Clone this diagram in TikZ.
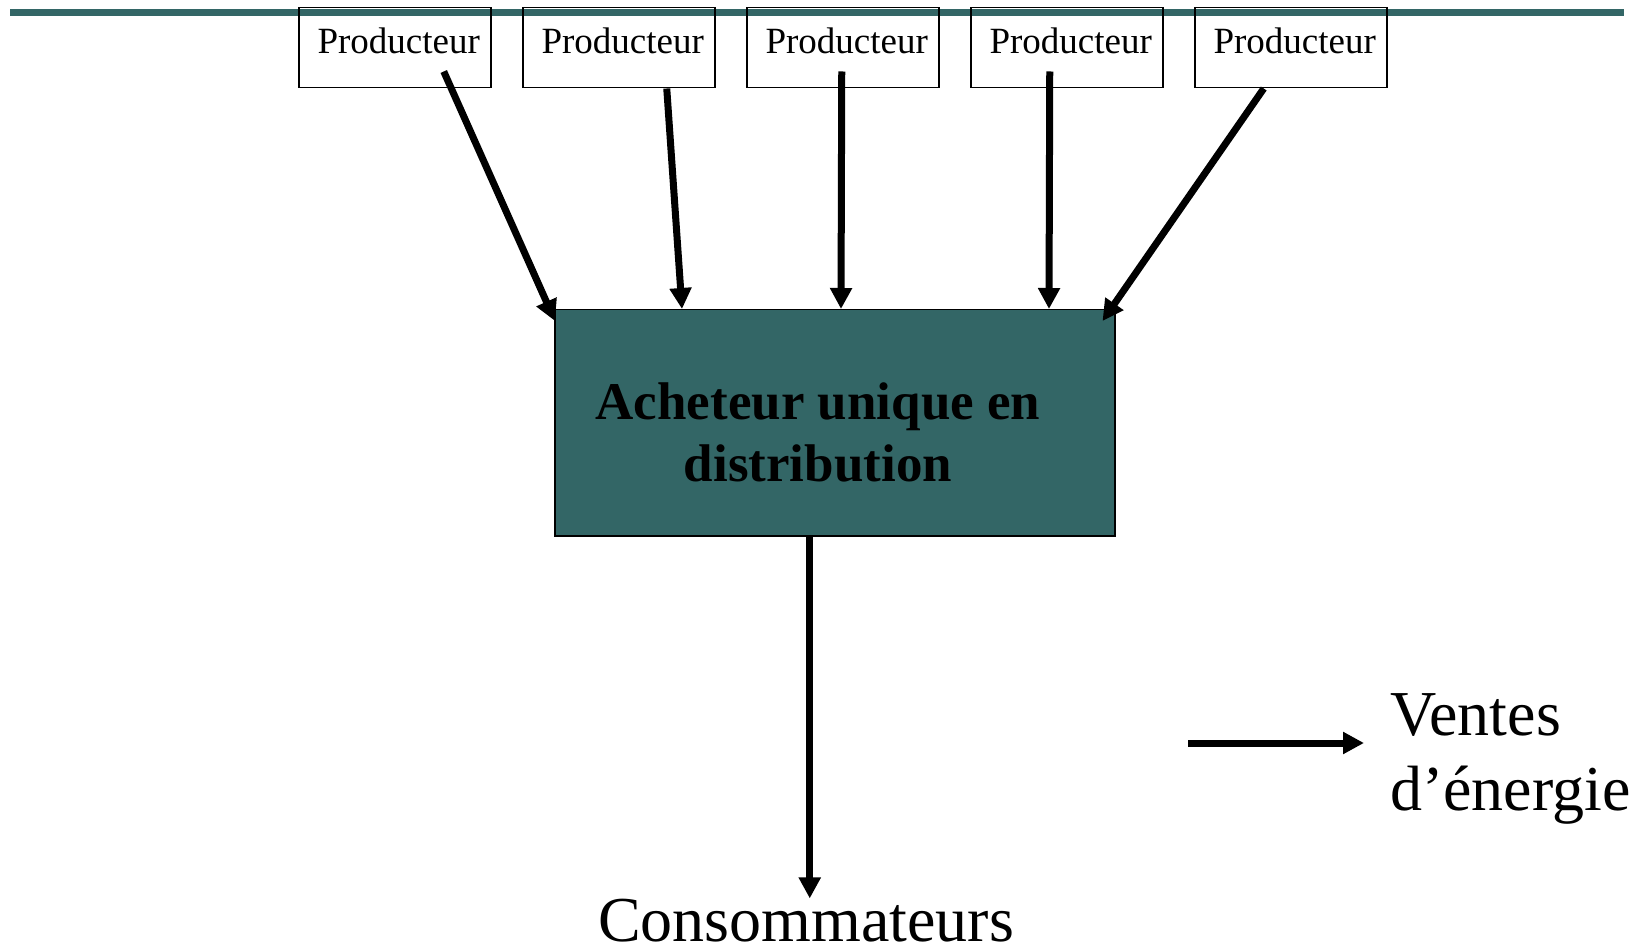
\documentclass[tikz,border=0pt]{standalone}
\usepackage{fontspec}
\setmainfont{Liberation Serif}
\usetikzlibrary{arrows.meta,calc}
\definecolor{tealbar}{RGB}{51,102,102}
\begin{document}
\begin{tikzpicture}[x=1pt,y=-1pt,
  prodbox/.style={draw=black, line width=1.5pt, minimum width=192pt, minimum height=80pt, inner sep=0pt, anchor=north west},
  prodtxt/.style={font=\fontsize{37}{44}\selectfont, anchor=base, inner sep=0pt},
  mainbox/.style={draw=black, line width=1.5pt, fill=tealbar, minimum width=560pt, minimum height=226pt, inner sep=0pt, anchor=north west},
  maintxt/.style={font=\bfseries\fontsize{53}{62}\selectfont, anchor=base, inner sep=0pt},
  bigtxt/.style={font=\fontsize{64}{72}\selectfont, inner sep=0pt},
  flow/.style={line width=7pt, -{Triangle[length=21pt,width=21pt]}}]
\useasboundingbox (0,0) rectangle (1641,949);
\draw[tealbar, line width=7pt] (10,12.5) -- (1624,12.5);
% producers
\node[prodbox] (p1) at (298,7) {};
\node[prodbox] (p2) at (522,7) {};
\node[prodbox] (p3) at (746,7) {};
\node[prodbox] (p4) at (970,7) {};
\node[prodbox] (p5) at (1194,7) {};
\foreach \i in {1,...,5}{
  \node[prodtxt] (t\i) at ($(p\i.north)+(4,47)$) {Producteur};
}
% main box
\node[mainbox] (main) at (554,309) {};
\node[maintxt] (mt1) at (818,419) {Acheteur unique en};
\node[maintxt] (mt2) at (818,481) {distribution};
% arrows from producers
\draw[flow] ($(p1.south)+(49,-17)$) -- ($(main.north west)+(1,12)$);
\draw[flow] ($(p2.south)+(48,0)$) -- ($(main.north west)+(128,0)$);
\draw[flow] ($(p3.south)+(-1,-17)$) -- ($(main.north west)+(287,0)$);
\draw[flow] ($(p4.south)+(-17,-17)$) -- ($(main.north west)+(495,0)$);
\draw[flow] ($(p5.south)+(-27,0)$) -- ($(main.north east)+(-13,12)$);
% consumers
\node[bigtxt, anchor=base] (cons) at (806,941) {Consommateurs};
\coordinate (cs) at ($(main.south)+(-25,0)$);
\draw[flow] (cs) -- (cs |- cons.north);
% legend
\node[bigtxt, anchor=base west] (v1) at (1390,735) {Ventes};
\node[bigtxt, anchor=base west] (v2) at (1390,810) {d’énergie};
\coordinate (l1) at (1188,743);
\coordinate (l2) at (1364,743);
\draw[flow] (l1) -- (l2);
\end{tikzpicture}
\end{document}
